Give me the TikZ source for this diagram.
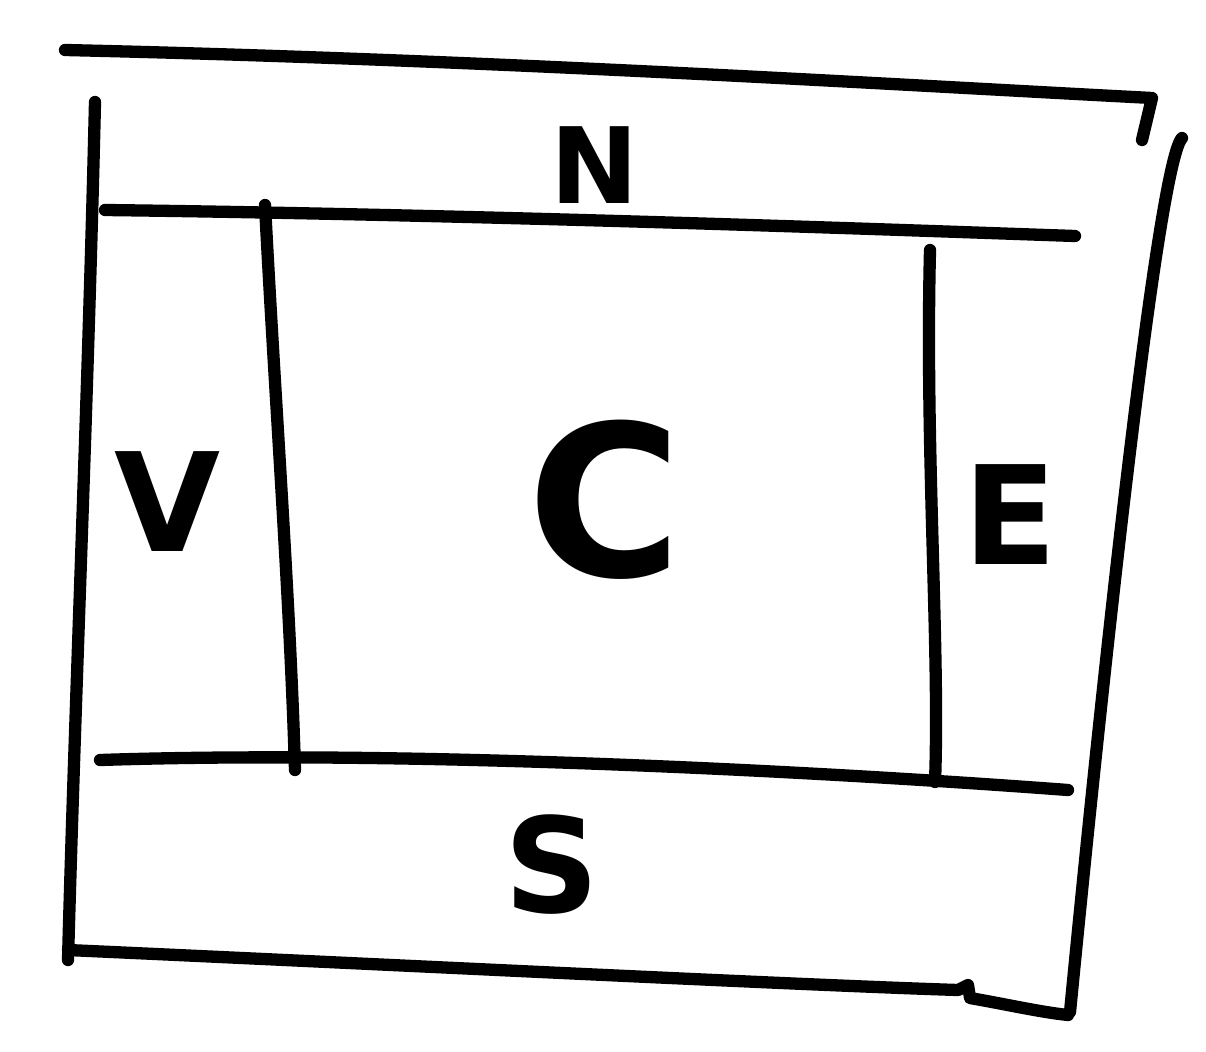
\documentclass[tikz,border=0pt]{standalone}
\usepackage{fontspec}
\setmainfont{DejaVu Sans}
\begin{document}
\begin{tikzpicture}[x=0.02cm,y=-0.02cm,
  pen/.style={line width=7pt,line cap=round,line join=round,black},
  lbl/.style={inner sep=0pt,font=\bfseries\fontsize{#1}{#1}\selectfont}]
\useasboundingbox (0,0) rectangle (1206,1051);
% outer frame
\draw[pen] (65,50) .. controls (500,60) and (900,85) .. (1152,98) -- (1142,140);
\draw[pen] (95,102) .. controls (88,400) and (75,700) .. (68,960);
\draw[pen] (68,950) .. controls (400,965) and (800,985) .. (958,990)
  -- (968,985) -- (970,998) .. controls (1010,1005) and (1040,1012) .. (1068,1015);
\draw[pen] (1182,138) .. controls (1160,160) and (1110,600) .. (1070,1012);
% inner lines
\draw[pen] (105,210) .. controls (500,215) and (900,230) .. (1075,236);
\draw[pen] (100,760) .. controls (400,750) and (800,770) .. (1068,790);
\draw[pen] (265,205) .. controls (275,400) and (290,600) .. (295,770);
\draw[pen] (930,250) .. controls (925,450) and (940,650) .. (935,782);
% labels
\node[lbl=60] (n) at (595,165) {N};
\node[lbl=78] (v) at (168,502) {V};
\node[lbl=120] (c) at (605,500) {C};
\node[lbl=78] (e) at (1010,515) {E};
\node[lbl=75] (s) at (552,865) {S};
\end{tikzpicture}
\end{document}
